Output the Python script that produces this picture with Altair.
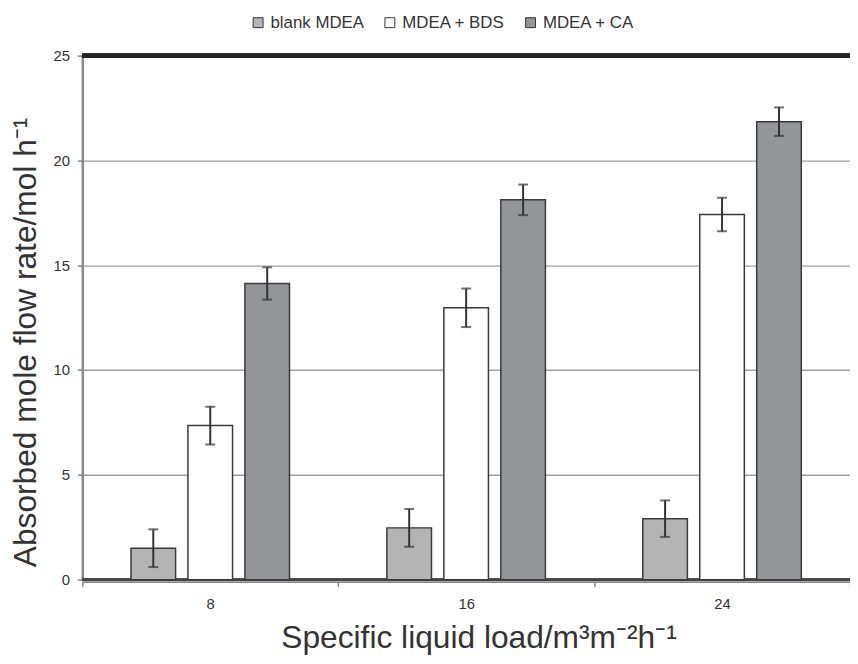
import altair as alt
import pandas as pd

loads = ["8", "16", "24"]
series = ["blank MDEA", "MDEA + BDS", "MDEA + CA"]
blank_vals = [1.50, 2.47, 2.91]
blank_err = [0.90, 0.90, 0.87]
bds_vals = [7.35, 12.97, 17.42]
bds_err = [0.90, 0.92, 0.80]
ca_vals = [14.13, 18.12, 21.85]
ca_err = [0.77, 0.73, 0.68]
colors = ["#b4b4b4", "#ffffff", "#939598"]

rows = []
for s, vals, errs in zip(series, [blank_vals, bds_vals, ca_vals], [blank_err, bds_err, ca_err]):
    for l, v, e in zip(loads, vals, errs):
        rows.append({"load": l, "series": s, "value": v, "lo": v - e, "hi": v + e})
df = pd.DataFrame(rows)

FONT = "Liberation Sans, Arial, Helvetica, sans-serif"

xscale = alt.Scale(domain=loads, paddingInner=0, paddingOuter=0)
offscale = alt.Scale(domain=series, paddingInner=0.217, paddingOuter=0.855)

x = alt.X("load:N", scale=xscale, sort=loads,
          axis=alt.Axis(title="Specific liquid load/m³m⁻²h⁻¹", labelAngle=0,
                        labelFont=FONT, labelFontSize=15, labelColor="#333333",
                        labelPadding=10, tickBand="extent", tickSize=5, tickColor="#888888",
                        tickWidth=1.5, domainColor="#888888", domainWidth=2, offset=2,
                        titleFont=FONT, titleFontSize=32, titleFontWeight="normal",
                        titleColor="#333333", titleX=400, titleY=66,
                        titleAlign="center", titleBaseline="alphabetic"))
y = alt.Y("value:Q", scale=alt.Scale(domain=[0, 25], nice=False),
          axis=alt.Axis(title="Absorbed mole flow rate/mol h⁻¹", values=[0, 5, 10, 15, 20, 25],
                        labelFont=FONT, labelFontSize=15, labelColor="#333333",
                        labelPadding=8, tickSize=5, tickColor="#888888", tickWidth=1.5,
                        domainColor="#888888", domainWidth=2.5,
                        grid=True, gridColor="#a0a0a0", gridWidth=1.5,
                        titleFont=FONT, titleFontSize=32, titleFontWeight="normal",
                        titleColor="#333333", titleX=-47, titleY=289, titleAngle=-90,
                        titleAlign="center", titleBaseline="alphabetic"))

color = alt.Color("series:N", scale=alt.Scale(domain=series, range=colors), sort=series,
                  legend=alt.Legend(title=None, orient="none", direction="horizontal",
                                    legendX=169, legendY=-42, symbolType="square",
                                    symbolSize=100, symbolStrokeColor="#333333",
                                    symbolStrokeWidth=1, labelFont=FONT, labelFontSize=17,
                                    labelColor="#333333", labelOffset=4, columnPadding=17,
                                    padding=0))

bars = alt.Chart(df).mark_bar(stroke="#3a3a3a", strokeWidth=1.5).encode(
    x=x, y=y, xOffset=alt.XOffset("series:N", scale=offscale, sort=series), color=color
)

err_rule = alt.Chart(df).mark_rule(color="#333333", strokeWidth=2).encode(
    x=alt.X("load:N", scale=xscale, sort=loads),
    xOffset=alt.XOffset("series:N", scale=offscale, sort=series),
    y=alt.Y("lo:Q"), y2="hi:Q"
)
cap_lo = alt.Chart(df).mark_tick(color="#333333", thickness=2, size=10, orient="horizontal").encode(
    x=alt.X("load:N", scale=xscale, sort=loads),
    xOffset=alt.XOffset("series:N", scale=offscale, sort=series),
    y=alt.Y("lo:Q")
)
cap_hi = alt.Chart(df).mark_tick(color="#333333", thickness=2, size=10, orient="horizontal").encode(
    x=alt.X("load:N", scale=xscale, sort=loads),
    xOffset=alt.XOffset("series:N", scale=offscale, sort=series),
    y=alt.Y("hi:Q")
)

zero_line = alt.Chart(df).mark_rule(color="#444444", strokeWidth=2).encode(y=alt.datum(0))
top_line = alt.Chart(df).mark_rule(color="#222222", strokeWidth=4).encode(y=alt.datum(25))

chart = alt.layer(zero_line, bars, err_rule, cap_lo, cap_hi, top_line).properties(
    width=775, height=529,
    autosize=alt.AutoSizeParams(type="none"),
    padding={"left": 75, "top": 45, "right": 0, "bottom": 74},
).configure_view(stroke=None).configure(background="white")

chart.save("out.html", embed_options={"renderer": "svg", "actions": False})
